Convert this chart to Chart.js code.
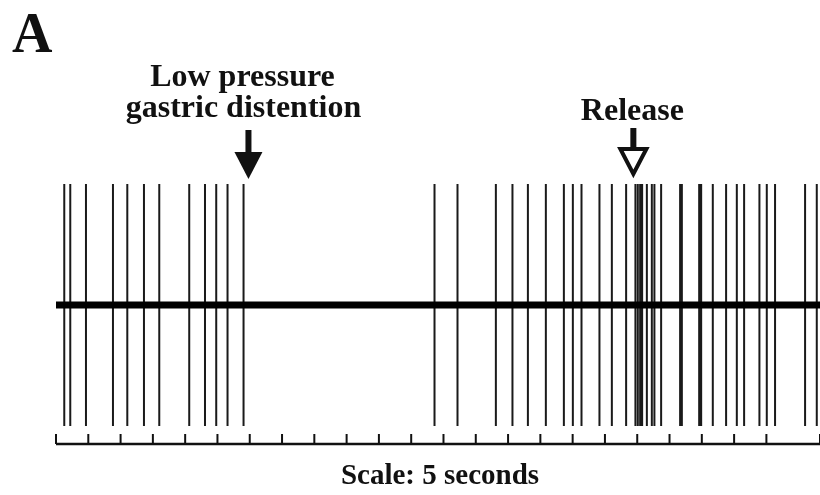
<!DOCTYPE html>
<html>
<head>
<meta charset="utf-8">
<script src="https://cdn.jsdelivr.net/npm/chart.js@4/dist/chart.umd.min.js"></script>
<style>
  html, body { margin: 0; padding: 0; background: #fff; }
  #wrap { width: 820px; height: 495px; position: relative; }
</style>
</head>
<body>
<div id="wrap"><canvas id="trace"></canvas></div>
<script>
// spike times (s)
const spikeTimes = [
  1.28, 2.21, 4.64, 8.82, 11.04, 13.62, 15.99, 20.63, 23.07, 24.81, 26.56, 29.04,
  58.61, 62.17,
  68.11, 70.68, 73.07, 75.85, 78.64, 80.03, 81.37, 84.15, 86.07, 88.28,
  89.72, 90.09, 90.45, 90.76, 91.49, 92.26, 92.66, 93.70, 96.64, 96.91,
  99.59, 99.90, 101.70, 103.76, 105.42, 106.55, 108.92, 110.06, 111.34,
  115.99, 117.80
];
const recordEnd = 118.3;
const tickStep = 5;
const distentionAt = 29.8;
const releaseAt = 89.4;
const labels = {
  panel: "A",
  distention: ["Low pressure", "gastric distention"],
  release: "Release",
  scale: "Scale: 5 seconds"
};

const serif = '"Liberation Serif", "DejaVu Serif", serif';

// spikes as vertical segments separated by gaps
const spikeData = spikeTimes.flatMap(t => [{x: t, y: -1}, {x: t, y: 1}, {x: t, y: null}]);

const axisAndNotes = {
  id: 'axisAndNotes',
  afterDraw(chart) {
    const ctx = chart.ctx;
    const x = chart.scales.x;
    const area = chart.chartArea;
    ctx.save();
    ctx.strokeStyle = '#111';
    ctx.fillStyle = '#111';

    // time axis with upward ticks
    ctx.lineWidth = 2.5;
    ctx.beginPath();
    ctx.moveTo(area.left, area.bottom);
    ctx.lineTo(area.right, area.bottom);
    ctx.stroke();
    ctx.lineWidth = 2;
    x.ticks.forEach(t => {
      const px = x.getPixelForValue(t.value);
      ctx.beginPath();
      ctx.moveTo(px, area.bottom);
      ctx.lineTo(px, area.bottom - 10);
      ctx.stroke();
    });

    // texts
    ctx.textAlign = 'left';
    ctx.font = 'bold 56px ' + serif;
    ctx.fillText(labels.panel, 12, 52);

    ctx.textAlign = 'center';
    ctx.font = 'bold 32px ' + serif;
    const dx = x.getPixelForValue(distentionAt);
    ctx.fillText(labels.distention[0], dx - 6, 86);
    ctx.fillText(labels.distention[1], dx - 5, 117);
    const rx = x.getPixelForValue(releaseAt);
    ctx.fillText(labels.release, rx - 1, 120);

    ctx.font = 'bold 29px ' + serif;
    ctx.fillText(labels.scale, 440, 484);

    // filled arrow
    ctx.fillRect(dx - 3, 130, 6, 24);
    ctx.beginPath();
    ctx.moveTo(dx - 14, 152);
    ctx.lineTo(dx + 14, 152);
    ctx.lineTo(dx, 179);
    ctx.closePath();
    ctx.fill();

    // open arrow
    ctx.fillRect(rx - 3, 128, 6, 21);
    ctx.lineWidth = 4;
    ctx.lineJoin = 'miter';
    ctx.beginPath();
    ctx.moveTo(rx - 13, 149);
    ctx.lineTo(rx + 13, 149);
    ctx.lineTo(rx, 174);
    ctx.closePath();
    ctx.stroke();

    ctx.restore();
  }
};

new Chart(document.getElementById('trace'), {
  type: 'line',
  data: {
    datasets: [
      {
        data: [{x: 0, y: 0}, {x: recordEnd, y: 0}],
        borderColor: '#000',
        borderWidth: 7,
        pointRadius: 0
      },
      {
        data: spikeData,
        borderColor: '#1a1a1a',
        borderWidth: 2,
        pointRadius: 0,
        spanGaps: false
      }
    ]
  },
  options: {
    responsive: true,
    maintainAspectRatio: false,
    animation: false,
    layout: { padding: { left: 56, right: 0, top: 184, bottom: 51 } },
    plugins: { legend: { display: false }, tooltip: { enabled: false } },
    scales: {
      x: { type: 'linear', min: 0, max: recordEnd, display: false, ticks: { stepSize: tickStep } },
      y: { min: -1.148, max: 1, display: false }
    }
  },
  plugins: [axisAndNotes]
});
</script>
</body>
</html>
